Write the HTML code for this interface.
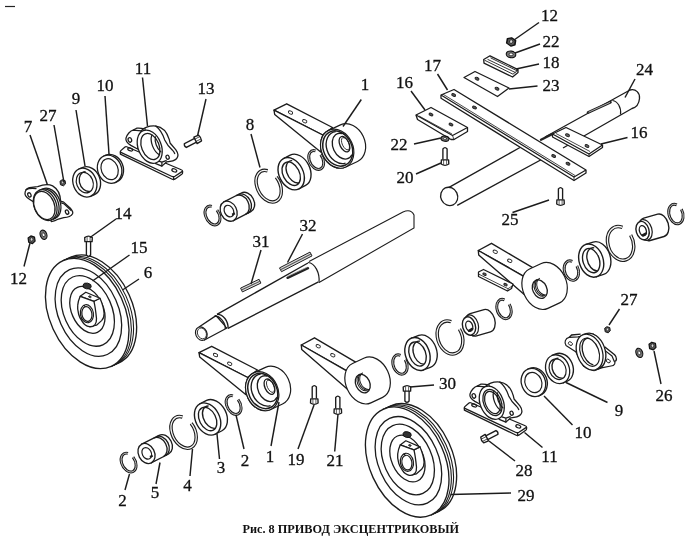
<!DOCTYPE html><html><head><meta charset="utf-8"><title>Рис. 8</title>
<style>html,body{margin:0;padding:0;background:#fff}svg{display:block;filter:blur(0.4px)}text{font-family:"Liberation Serif",serif;fill:#111}</style></head><body>
<svg width="700" height="542" viewBox="0 0 700 542">
<rect width="700" height="542" fill="#fff"/>
<path d="M5,6.5H15" stroke="#222" stroke-width="1.2"/>
<g transform="translate(128.6,462.6) rotate(-27.0)" >
<path d="M6.44,-2.76A6.70,10.00 0 1 1 3.55,-8.48" stroke="#1c1c1c" stroke-width="2.9" fill="none"/>
<path d="M6.44,-2.76A6.70,10.00 0 1 1 3.55,-8.48" stroke="#f4f4f4" stroke-width="0.70" fill="none"/>
</g>
<g transform="translate(146.5,453.5) rotate(-27.0)" >
<path d="M0,-10.5L19.5,-10.5A8,10.5 0 0 1 19.5,10.5L0,10.5Z" stroke="#1c1c1c" stroke-width="1.35" fill="#fff"/>
<path d="M13.50,-10.50A8.00,10.50 0 0 1 13.50,10.50" stroke="#1c1c1c" stroke-width="1.35" fill="none"/>
<path d="M16.00,-10.50A8.00,10.50 0 0 1 16.00,10.50" stroke="#1c1c1c" stroke-width="1.35" fill="none"/>
<ellipse cx="0" cy="0" rx="8" ry="10.5" stroke="#1c1c1c" stroke-width="1.3" fill="#fff"/>
<ellipse cx="0.3" cy="0" rx="4.5" ry="6.1" stroke="#1c1c1c" stroke-width="1.2" fill="#fff"/>
<path d="M1.5,4.7l3,0" stroke="#1c1c1c" stroke-width="2.2"/>
</g>
<g transform="translate(183.6,432.4) rotate(-27.0)" >
<path d="M10.86,-4.63A11.30,16.80 0 1 1 5.99,-14.25" stroke="#1c1c1c" stroke-width="3.5" fill="none"/>
<path d="M10.86,-4.63A11.30,16.80 0 1 1 5.99,-14.25" stroke="#f4f4f4" stroke-width="1.30" fill="none"/>
</g>
<g transform="translate(207.6,419.0) rotate(-27.0)" >
<path d="M0,-17.0L7.5,-17.0A12.0,17.0 0 0 1 7.5,17.0L0,17.0Z" stroke="#1c1c1c" stroke-width="1.35" fill="#fff"/>
<ellipse cx="0" cy="0" rx="12.0" ry="17.0" stroke="#1c1c1c" stroke-width="1.4" fill="#fff"/>
<ellipse cx="0" cy="0" rx="8.2" ry="12.5" stroke="#1c1c1c" stroke-width="1.35" fill="#fff"/>
<path d="M2.77,11.69A7.79,11.88 0 1 1 6.79,-11.16" stroke="#1c1c1c" stroke-width="1.35" fill="none"/>
</g>
<g transform="translate(233.6,405.0) rotate(-27.0)" >
<path d="M6.44,-2.76A6.70,10.00 0 1 1 3.55,-8.48" stroke="#1c1c1c" stroke-width="2.9" fill="none"/>
<path d="M6.44,-2.76A6.70,10.00 0 1 1 3.55,-8.48" stroke="#f4f4f4" stroke-width="0.70" fill="none"/>
</g>
<g transform="translate(212.5,215.5) rotate(-27.0)" >
<path d="M6.44,-2.76A6.70,10.00 0 1 1 3.55,-8.48" stroke="#1c1c1c" stroke-width="2.9" fill="none"/>
<path d="M6.44,-2.76A6.70,10.00 0 1 1 3.55,-8.48" stroke="#f4f4f4" stroke-width="0.70" fill="none"/>
</g>
<g transform="translate(228.7,211.2) rotate(-27.0)" >
<path d="M0,-10.5L19.5,-10.5A8,10.5 0 0 1 19.5,10.5L0,10.5Z" stroke="#1c1c1c" stroke-width="1.35" fill="#fff"/>
<path d="M13.50,-10.50A8.00,10.50 0 0 1 13.50,10.50" stroke="#1c1c1c" stroke-width="1.35" fill="none"/>
<path d="M16.00,-10.50A8.00,10.50 0 0 1 16.00,10.50" stroke="#1c1c1c" stroke-width="1.35" fill="none"/>
<ellipse cx="0" cy="0" rx="8" ry="10.5" stroke="#1c1c1c" stroke-width="1.3" fill="#fff"/>
<ellipse cx="0.3" cy="0" rx="4.5" ry="6.1" stroke="#1c1c1c" stroke-width="1.2" fill="#fff"/>
<path d="M1.5,4.7l3,0" stroke="#1c1c1c" stroke-width="2.2"/>
</g>
<g transform="translate(268.7,186.2) rotate(-27.0)" >
<path d="M10.86,-4.63A11.30,16.80 0 1 1 5.99,-14.25" stroke="#1c1c1c" stroke-width="3.5" fill="none"/>
<path d="M10.86,-4.63A11.30,16.80 0 1 1 5.99,-14.25" stroke="#f4f4f4" stroke-width="1.30" fill="none"/>
</g>
<g transform="translate(291.2,173.7) rotate(-27.0)" >
<path d="M0,-17.0L7.5,-17.0A12.0,17.0 0 0 1 7.5,17.0L0,17.0Z" stroke="#1c1c1c" stroke-width="1.35" fill="#fff"/>
<ellipse cx="0" cy="0" rx="12.0" ry="17.0" stroke="#1c1c1c" stroke-width="1.4" fill="#fff"/>
<ellipse cx="0" cy="0" rx="8.2" ry="12.5" stroke="#1c1c1c" stroke-width="1.35" fill="#fff"/>
<path d="M2.77,11.69A7.79,11.88 0 1 1 6.79,-11.16" stroke="#1c1c1c" stroke-width="1.35" fill="none"/>
</g>
<g transform="translate(316.2,160.0) rotate(-27.0)" >
<path d="M6.44,-2.76A6.70,10.00 0 1 1 3.55,-8.48" stroke="#1c1c1c" stroke-width="2.9" fill="none"/>
<path d="M6.44,-2.76A6.70,10.00 0 1 1 3.55,-8.48" stroke="#f4f4f4" stroke-width="0.70" fill="none"/>
</g>
<g transform="translate(571.4,270.6) rotate(-18.0)" >
<path d="M6.63,-2.76A6.90,10.00 0 1 1 3.66,-8.48" stroke="#1c1c1c" stroke-width="2.9" fill="none"/>
<path d="M6.63,-2.76A6.90,10.00 0 1 1 3.66,-8.48" stroke="#f4f4f4" stroke-width="0.70" fill="none"/>
</g>
<g transform="translate(591.2,260.6) rotate(-18.0)" >
<path d="M0,-17.0L7.5,-17.0A12.0,17.0 0 0 1 7.5,17.0L0,17.0Z" stroke="#1c1c1c" stroke-width="1.35" fill="#fff"/>
<ellipse cx="0" cy="0" rx="12.0" ry="17.0" stroke="#1c1c1c" stroke-width="1.4" fill="#fff"/>
<ellipse cx="0" cy="0" rx="8.2" ry="12.5" stroke="#1c1c1c" stroke-width="1.35" fill="#fff"/>
<path d="M2.77,11.69A7.79,11.88 0 1 1 6.79,-11.16" stroke="#1c1c1c" stroke-width="1.35" fill="none"/>
</g>
<g transform="translate(620.6,243.4) rotate(-18.0)" >
<path d="M12.11,-4.74A12.60,17.20 0 1 1 6.68,-14.59" stroke="#1c1c1c" stroke-width="3.5" fill="none"/>
<path d="M12.11,-4.74A12.60,17.20 0 1 1 6.68,-14.59" stroke="#f4f4f4" stroke-width="1.30" fill="none"/>
</g>
<g transform="translate(642.6,230.6) rotate(-16.0)" >
<path d="M4.5,-11.6L19.0,-11.6A7.6,11.6 0 0 1 19.0,11.6L4.5,11.6A7.6,11.6 0 0 1 4.5,-11.6Z" stroke="#1c1c1c" stroke-width="1.35" fill="#fff"/>
<ellipse cx="2.4" cy="0" rx="7.0" ry="10.6" stroke="#1c1c1c" fill="#fff" stroke-width="1.2"/>
<ellipse cx="0" cy="0" rx="6.4" ry="9.4" stroke="#1c1c1c" stroke-width="1.4" fill="#fff"/>
<ellipse cx="0.2" cy="0.2" rx="3.4" ry="5.2" stroke="#1c1c1c" stroke-width="1.3" fill="#fff"/>
<path d="M-1.2,4.6L2.4,3.6" stroke="#1c1c1c" stroke-width="2.4" stroke-linecap="round"/>
</g>
<g transform="translate(675.9,214.0) rotate(-18.0)" >
<path d="M6.63,-2.76A6.90,10.00 0 1 1 3.66,-8.48" stroke="#1c1c1c" stroke-width="2.9" fill="none"/>
<path d="M6.63,-2.76A6.90,10.00 0 1 1 3.66,-8.48" stroke="#f4f4f4" stroke-width="0.70" fill="none"/>
</g>
<g transform="translate(400.0,364.5) rotate(-20.0)" >
<path d="M6.54,-2.76A6.80,10.00 0 1 1 3.60,-8.48" stroke="#1c1c1c" stroke-width="2.9" fill="none"/>
<path d="M6.54,-2.76A6.80,10.00 0 1 1 3.60,-8.48" stroke="#f4f4f4" stroke-width="0.70" fill="none"/>
</g>
<g transform="translate(417.5,354.0) rotate(-20.0)" >
<path d="M0,-17.0L7.5,-17.0A12.0,17.0 0 0 1 7.5,17.0L0,17.0Z" stroke="#1c1c1c" stroke-width="1.35" fill="#fff"/>
<ellipse cx="0" cy="0" rx="12.0" ry="17.0" stroke="#1c1c1c" stroke-width="1.4" fill="#fff"/>
<ellipse cx="0" cy="0" rx="8.2" ry="12.5" stroke="#1c1c1c" stroke-width="1.35" fill="#fff"/>
<path d="M2.77,11.69A7.79,11.88 0 1 1 6.79,-11.16" stroke="#1c1c1c" stroke-width="1.35" fill="none"/>
</g>
<g transform="translate(450.0,337.5) rotate(-20.0)" >
<path d="M11.73,-4.69A12.20,17.00 0 1 1 6.47,-14.42" stroke="#1c1c1c" stroke-width="3.5" fill="none"/>
<path d="M11.73,-4.69A12.20,17.00 0 1 1 6.47,-14.42" stroke="#f4f4f4" stroke-width="1.30" fill="none"/>
</g>
<g transform="translate(469.0,326.0) rotate(-16.0)" >
<path d="M4.5,-11.6L19.0,-11.6A7.6,11.6 0 0 1 19.0,11.6L4.5,11.6A7.6,11.6 0 0 1 4.5,-11.6Z" stroke="#1c1c1c" stroke-width="1.35" fill="#fff"/>
<ellipse cx="2.4" cy="0" rx="7.0" ry="10.6" stroke="#1c1c1c" fill="#fff" stroke-width="1.2"/>
<ellipse cx="0" cy="0" rx="6.4" ry="9.4" stroke="#1c1c1c" stroke-width="1.4" fill="#fff"/>
<ellipse cx="0.2" cy="0.2" rx="3.4" ry="5.2" stroke="#1c1c1c" stroke-width="1.3" fill="#fff"/>
<path d="M-1.2,4.6L2.4,3.6" stroke="#1c1c1c" stroke-width="2.4" stroke-linecap="round"/>
</g>
<g transform="translate(504.0,309.0) rotate(-20.0)" >
<path d="M6.54,-2.76A6.80,10.00 0 1 1 3.60,-8.48" stroke="#1c1c1c" stroke-width="2.9" fill="none"/>
<path d="M6.54,-2.76A6.80,10.00 0 1 1 3.60,-8.48" stroke="#f4f4f4" stroke-width="0.70" fill="none"/>
</g>
<g transform="translate(337.2,148.7)">
<path d="M-63.2,-38.5L-50.5,-44.9L-4.7,-21.2L-14.5,-13.7Z" stroke="#1c1c1c" stroke-width="1.35" fill="#fff" stroke-linejoin="round"/>
<path d="M-63.2,-38.5L-14.5,-13.7L-16.2,3.5L-62.5,-34.2Z" stroke="#1c1c1c" stroke-width="1.35" fill="#fff" stroke-linejoin="round"/>
<ellipse cx="-46.7" cy="-36.2" rx="2.3" ry="1.5" transform="rotate(25 -46.7 -36.2)" stroke="#1c1c1c" fill="none" stroke-width="0.9"/>
<ellipse cx="-32.5" cy="-27.5" rx="2.3" ry="1.5" transform="rotate(25 -32.5 -27.5)" stroke="#1c1c1c" fill="none" stroke-width="0.9"/>
</g>
<g transform="translate(337.2,148.7) rotate(-25.0)" >
<path d="M0,-20.2L13.0,-20.2A15.8,20.2 0 0 1 13.0,20.2L0,20.2A15.8,20.2 0 0 1 0,-20.2Z" stroke="#1c1c1c" stroke-width="1.2" fill="#fff"/>
<ellipse cx="0" cy="0" rx="15.8" ry="20.2" stroke="#1c1c1c" stroke-width="1.2" fill="#fff"/>
<ellipse cx="0.6" cy="0" rx="14.200000000000001" ry="18.3" stroke="#1c1c1c" stroke-width="1.5" fill="none"/>
<path d="M1.50,16.54A12.60,16.60 0 1 1 5.86,-16.03" stroke="#1c1c1c" stroke-width="1.35" fill="none"/>
<path d="M10.80,11.69A9.60,13.50 0 1 1 10.80,-11.69" stroke="#1c1c1c" stroke-width="1.35" fill="none"/>
<ellipse cx="8.5" cy="-1.0" rx="4.6" ry="8.2" stroke="#1c1c1c" stroke-width="1.3" fill="none"/>
<ellipse cx="9.6" cy="-1.0" rx="3.2" ry="6.6" stroke="#1c1c1c" stroke-width="0.8" fill="none"/>
</g>
<g transform="translate(262.2,391.2)">
<path d="M-63.2,-38.5L-50.5,-44.9L-4.7,-21.2L-14.5,-13.7Z" stroke="#1c1c1c" stroke-width="1.35" fill="#fff" stroke-linejoin="round"/>
<path d="M-63.2,-38.5L-14.5,-13.7L-16.2,3.5L-62.5,-34.2Z" stroke="#1c1c1c" stroke-width="1.35" fill="#fff" stroke-linejoin="round"/>
<ellipse cx="-46.7" cy="-36.2" rx="2.3" ry="1.5" transform="rotate(25 -46.7 -36.2)" stroke="#1c1c1c" fill="none" stroke-width="0.9"/>
<ellipse cx="-32.5" cy="-27.5" rx="2.3" ry="1.5" transform="rotate(25 -32.5 -27.5)" stroke="#1c1c1c" fill="none" stroke-width="0.9"/>
</g>
<g transform="translate(262.2,391.2) rotate(-25.0)" >
<path d="M0,-20.2L13.0,-20.2A15.8,20.2 0 0 1 13.0,20.2L0,20.2A15.8,20.2 0 0 1 0,-20.2Z" stroke="#1c1c1c" stroke-width="1.2" fill="#fff"/>
<ellipse cx="0" cy="0" rx="15.8" ry="20.2" stroke="#1c1c1c" stroke-width="1.2" fill="#fff"/>
<ellipse cx="0.6" cy="0" rx="14.200000000000001" ry="18.3" stroke="#1c1c1c" stroke-width="1.5" fill="none"/>
<path d="M1.50,16.54A12.60,16.60 0 1 1 5.86,-16.03" stroke="#1c1c1c" stroke-width="1.35" fill="none"/>
<path d="M10.80,11.69A9.60,13.50 0 1 1 10.80,-11.69" stroke="#1c1c1c" stroke-width="1.35" fill="none"/>
<ellipse cx="8.5" cy="-1.0" rx="4.6" ry="8.2" stroke="#1c1c1c" stroke-width="1.3" fill="none"/>
<ellipse cx="9.6" cy="-1.0" rx="3.2" ry="6.6" stroke="#1c1c1c" stroke-width="0.8" fill="none"/>
</g>
<g transform="translate(361.7,383.2)">
<path d="M-60.4,-38.2L-47.2,-45.4L-5.2,-20.5L-15,-12.4Z" stroke="#1c1c1c" stroke-width="1.35" fill="#fff" stroke-linejoin="round"/>
<path d="M-60.4,-38.2L-15,-12.4L-14.2,6L-60,-33.8Z" stroke="#1c1c1c" stroke-width="1.35" fill="#fff" stroke-linejoin="round"/>
<ellipse cx="-43.5" cy="-37" rx="2.3" ry="1.5" transform="rotate(25 -43.5 -37)" stroke="#1c1c1c" fill="none" stroke-width="0.9"/>
<ellipse cx="-28.9" cy="-28" rx="2.3" ry="1.5" transform="rotate(25 -28.9 -28)" stroke="#1c1c1c" fill="none" stroke-width="0.9"/>
</g>
<g transform="translate(361.7,383.2) rotate(-25.0)" >
<path d="M0,-21.7L13.0,-21.7A15.6,21.7 0 0 1 13.0,21.7L0,21.7A15.6,21.7 0 0 1 0,-21.7Z" stroke="#1c1c1c" stroke-width="1.2" fill="#fff"/>
<ellipse cx="0.8" cy="0.8" rx="7.0" ry="9.6" stroke="#1c1c1c" stroke-width="1.3" fill="#fff"/>
<path d="M1.29,8.86A6.40,9.00 0 0 1 2.40,-9.00" stroke="#1c1c1c" fill="none" stroke-width="1.0"/>
<path d="M2.79,8.86A6.40,9.00 0 0 1 3.90,-9.00" stroke="#1c1c1c" fill="none" stroke-width="1.0"/>
<path d="M4.29,8.86A6.40,9.00 0 0 1 5.40,-9.00" stroke="#1c1c1c" fill="none" stroke-width="1.0"/>
</g>
<g transform="translate(538.7,288.7)">
<path d="M-60.4,-38.2L-47.2,-45.4L-5.2,-20.5L-15,-12.4Z" stroke="#1c1c1c" stroke-width="1.35" fill="#fff" stroke-linejoin="round"/>
<path d="M-60.4,-38.2L-15,-12.4L-14.2,6L-60,-33.8Z" stroke="#1c1c1c" stroke-width="1.35" fill="#fff" stroke-linejoin="round"/>
<ellipse cx="-43.5" cy="-37" rx="2.3" ry="1.5" transform="rotate(25 -43.5 -37)" stroke="#1c1c1c" fill="none" stroke-width="0.9"/>
<ellipse cx="-28.9" cy="-28" rx="2.3" ry="1.5" transform="rotate(25 -28.9 -28)" stroke="#1c1c1c" fill="none" stroke-width="0.9"/>
</g>
<g transform="translate(538.7,288.7) rotate(-25.0)" >
<path d="M0,-21.7L13.0,-21.7A15.6,21.7 0 0 1 13.0,21.7L0,21.7A15.6,21.7 0 0 1 0,-21.7Z" stroke="#1c1c1c" stroke-width="1.2" fill="#fff"/>
<ellipse cx="0.8" cy="0.8" rx="7.0" ry="9.6" stroke="#1c1c1c" stroke-width="1.3" fill="#fff"/>
<path d="M1.29,8.86A6.40,9.00 0 0 1 2.40,-9.00" stroke="#1c1c1c" fill="none" stroke-width="1.0"/>
<path d="M2.79,8.86A6.40,9.00 0 0 1 3.90,-9.00" stroke="#1c1c1c" fill="none" stroke-width="1.0"/>
<path d="M4.29,8.86A6.40,9.00 0 0 1 5.40,-9.00" stroke="#1c1c1c" fill="none" stroke-width="1.0"/>
</g>
<g transform="translate(87.2,313.5) rotate(-24.5)" >
<path d="M0,-58.0L8.4,-58.0A37.5,58.0 0 0 1 8.4,58.0L0,58.0Z" stroke="#1c1c1c" stroke-width="1.35" fill="#fff"/>
<path d="M0.64,-57.92A37.50,58.00 0 1 1 0.64,57.92" stroke="#1c1c1c" fill="none" stroke-width="1.1"/>
<path d="M3.04,-57.92A37.50,58.00 0 1 1 3.04,57.92" stroke="#1c1c1c" fill="none" stroke-width="1.1"/>
<ellipse cx="0" cy="0" rx="37.5" ry="58.0" stroke="#1c1c1c" stroke-width="1.35" fill="#fff"/>
</g>
<g transform="translate(88.4,312.1) rotate(-24.0)" >
<ellipse cx="0" cy="0" rx="30.0" ry="46.4" stroke="#1c1c1c" fill="none" stroke-width="1.3"/>
</g>
<g transform="translate(87.8,310.9) rotate(-24.0)" >
<ellipse cx="0" cy="0" rx="24.0" ry="37.1" stroke="#1c1c1c" fill="none" stroke-width="1.3"/>
</g>
<g transform="translate(87.4,309.9) rotate(-24.0)" >
<ellipse cx="0" cy="0" rx="15.9" ry="24.6" stroke="#1c1c1c" fill="none" stroke-width="1.3"/>
</g>
<g transform="translate(87.2,313.5)">
<path d="M6.7,-12.2L12.8,-15.2C15,-10 16.6,-5 16.9,0C17,3 16,5.5 14.4,7.1L9.3,11.7L2.2,13.2Z" stroke="#1c1c1c" stroke-width="1.25" fill="#fff" stroke-linejoin="round"/>
<path d="M-7,-17.2L-1.4,-21.3L12.8,-15.2L6.7,-12.2Z" stroke="#1c1c1c" stroke-width="1.25" fill="#fff" stroke-linejoin="round"/>
<path d="M-7,-17.2L6.7,-12.2C7.8,-8 8.6,-2 9.3,5.1C9.4,8 8.8,10 7.8,11.2C6,13 4,13.4 2.2,13.2C-1,12.6 -3.5,10.5 -4.9,8.1C-7,5 -8.3,2 -8.5,1C-9.6,-3 -9.8,-6 -9.5,-8.1C-9.2,-11.5 -8,-15 -7,-17.2Z" stroke="#1c1c1c" stroke-width="1.3" fill="#fff" stroke-linejoin="round"/>
<ellipse cx="-0.3" cy="0.2" rx="6.5" ry="9.1" transform="rotate(-10 -0.3 0.2)" stroke="#1c1c1c" stroke-width="1.2" fill="#fff"/>
<ellipse cx="-0.3" cy="0.5" rx="5.0" ry="7.4" transform="rotate(-10 -0.3 0.5)" stroke="#1c1c1c" stroke-width="1.2" fill="#fff"/>
<path d="M-3.6,-8.6l1.4,1.6" stroke="#1c1c1c" stroke-width="1.2" fill="none"/>
<ellipse cx="2.7" cy="-16.7" rx="1.4" ry="0.8" transform="rotate(20 2.7 -16.7)" stroke="#111" stroke-width="0.7" fill="#555"/>
<ellipse cx="-0.1" cy="-27.5" rx="4.2" ry="2.9" transform="rotate(12 -0.1 -27.5)" fill="#333" stroke="#111" stroke-width="0.9"/>
</g>
<g transform="translate(407.2,462.1) rotate(-24.5)" >
<path d="M0,-58.0L8.4,-58.0A37.5,58.0 0 0 1 8.4,58.0L0,58.0Z" stroke="#1c1c1c" stroke-width="1.35" fill="#fff"/>
<path d="M0.64,-57.92A37.50,58.00 0 1 1 0.64,57.92" stroke="#1c1c1c" fill="none" stroke-width="1.1"/>
<path d="M3.04,-57.92A37.50,58.00 0 1 1 3.04,57.92" stroke="#1c1c1c" fill="none" stroke-width="1.1"/>
<ellipse cx="0" cy="0" rx="37.5" ry="58.0" stroke="#1c1c1c" stroke-width="1.35" fill="#fff"/>
</g>
<g transform="translate(408.4,460.7) rotate(-24.0)" >
<ellipse cx="0" cy="0" rx="30.0" ry="46.4" stroke="#1c1c1c" fill="none" stroke-width="1.3"/>
</g>
<g transform="translate(407.8,459.5) rotate(-24.0)" >
<ellipse cx="0" cy="0" rx="24.0" ry="37.1" stroke="#1c1c1c" fill="none" stroke-width="1.3"/>
</g>
<g transform="translate(407.4,458.5) rotate(-24.0)" >
<ellipse cx="0" cy="0" rx="15.9" ry="24.6" stroke="#1c1c1c" fill="none" stroke-width="1.3"/>
</g>
<g transform="translate(407.2,462.1)">
<path d="M6.7,-12.2L12.8,-15.2C15,-10 16.6,-5 16.9,0C17,3 16,5.5 14.4,7.1L9.3,11.7L2.2,13.2Z" stroke="#1c1c1c" stroke-width="1.25" fill="#fff" stroke-linejoin="round"/>
<path d="M-7,-17.2L-1.4,-21.3L12.8,-15.2L6.7,-12.2Z" stroke="#1c1c1c" stroke-width="1.25" fill="#fff" stroke-linejoin="round"/>
<path d="M-7,-17.2L6.7,-12.2C7.8,-8 8.6,-2 9.3,5.1C9.4,8 8.8,10 7.8,11.2C6,13 4,13.4 2.2,13.2C-1,12.6 -3.5,10.5 -4.9,8.1C-7,5 -8.3,2 -8.5,1C-9.6,-3 -9.8,-6 -9.5,-8.1C-9.2,-11.5 -8,-15 -7,-17.2Z" stroke="#1c1c1c" stroke-width="1.3" fill="#fff" stroke-linejoin="round"/>
<ellipse cx="-0.3" cy="0.2" rx="6.5" ry="9.1" transform="rotate(-10 -0.3 0.2)" stroke="#1c1c1c" stroke-width="1.2" fill="#fff"/>
<ellipse cx="-0.3" cy="0.5" rx="5.0" ry="7.4" transform="rotate(-10 -0.3 0.5)" stroke="#1c1c1c" stroke-width="1.2" fill="#fff"/>
<path d="M-3.6,-8.6l1.4,1.6" stroke="#1c1c1c" stroke-width="1.2" fill="none"/>
<ellipse cx="2.7" cy="-16.7" rx="1.4" ry="0.8" transform="rotate(20 2.7 -16.7)" stroke="#111" stroke-width="0.7" fill="#555"/>
<ellipse cx="-0.1" cy="-27.5" rx="4.2" ry="2.9" transform="rotate(12 -0.1 -27.5)" fill="#333" stroke="#111" stroke-width="0.9"/>
</g>
<path d="M199.0,327.0L216.0,315.6L227.0,328.0L204.0,340.2" stroke="#1c1c1c" stroke-width="1.3" fill="#fff" stroke-linejoin="round" />
<ellipse cx="201.3" cy="333.6" rx="5.6" ry="7.0" transform="rotate(-24 201.3 333.6)" stroke="#1c1c1c" fill="#fff" stroke-width="1.2"/>
<ellipse cx="201.9" cy="333.4" rx="4.3" ry="5.6" transform="rotate(-24 201.9 333.4)" stroke="#1c1c1c" fill="none" stroke-width="0.8"/>
<path d="M217,314.4L308,263L318.5,281.8L228,328.4Z" fill="#fff" stroke="none"/>
<path d="M217,314.4L308,263M318.5,281.8L228,328.4" stroke="#1c1c1c" stroke-width="1.35" fill="none"/>
<path d="M217,314.4C223,314 228.5,321 228,328.4" stroke="#1c1c1c" fill="#fff" stroke-width="1.3"/>
<path d="M214.6,316C220,316 225.6,322.5 225.3,329" stroke="#1c1c1c" stroke-width="1.35" fill="none"/>
<path d="M309,261.5L403,212Q411,208.5 414,215L414,228L319,282.5" stroke="#1c1c1c" fill="#fff" stroke-width="1.1"/>
<path d="M308,262.5C315,263 320,273 319,282.5" stroke="#1c1c1c" fill="#fff" stroke-width="1.2"/>
<path d="M287.5,277.8L308,268.2" stroke="#222" stroke-width="2.4" stroke-linecap="round"/>
<path d="M288,276.2L307.5,267" stroke="#999" stroke-width="0.8"/>
<path d="M242.4,291.9L260.9,283.1L259.1,279.3L240.6,288.1Z" stroke="#1c1c1c" stroke-width="1.0" fill="#ddd" stroke-linejoin="round" />
<path d="M241.5,290.0L260.0,281.2" stroke="#555" stroke-width="1.1"/>
<path d="M281.5,271.7L312.0,255.9L310.0,252.1L279.5,267.9Z" stroke="#1c1c1c" stroke-width="1.0" fill="#ddd" stroke-linejoin="round" />
<path d="M280.5,269.8L311.0,254.0" stroke="#555" stroke-width="1.1"/>
<path d="M520,147.5L448.6,187.6L457.2,205.3L548,156L545,136Z" fill="#fff" stroke="none"/>
<path d="M520,147.5L448.6,187.6M457.2,205.3L548,156" stroke="#1c1c1c" fill="none" stroke-width="1.35"/>
<ellipse cx="449.2" cy="196.4" rx="8.4" ry="9.3" transform="rotate(-25 449.2 196.4)" stroke="#1c1c1c" fill="#fff" stroke-width="1.35"/>
<path d="M545,137L630,90C636,88.5 640,93 639.5,98.5C639,104 636,107.5 632,108.5L560,150Z" fill="#fff" stroke="none"/>
<path d="M545,137L630,90C636,88.5 640,93 639.5,98.5C639,104 636,107.5 632,108.5L563,148" stroke="#1c1c1c" fill="none" stroke-width="1.3" stroke-linejoin="round"/>
<path d="M612.5,100.5C617.5,101 621.5,107.5 620.5,114.5" stroke="#1c1c1c" fill="none" stroke-width="1.2"/>
<path d="M588,112.5L610.5,102.2" stroke="#222" stroke-width="2.6" stroke-linecap="round"/>
<path d="M588.6,112.2L610,102.4" stroke="#ccc" stroke-width="0.8"/>
<path d="M541,139.8L552,134.2" stroke="#222" stroke-width="2.4" stroke-linecap="round"/>
<path d="M552.5,134.0L566.0,127.5L602.5,145.0L602.5,147.5L589.0,156.5L552.5,137.0Z" stroke="#1c1c1c" stroke-width="1.3" fill="#fff" stroke-linejoin="round" />
<path d="M552.5,134.0L589.0,154.0L602.5,145.0" stroke="#1c1c1c" stroke-width="1.25" fill="none" stroke-linejoin="round" />
<path d="M589,154V156.5M556,133.5L590,151.5" stroke="#1c1c1c" fill="none" stroke-width="0.8"/>
<ellipse cx="567.5" cy="135.2" rx="2.1" ry="1.3" transform="rotate(25 567.5 135.2)" stroke="#1c1c1c" stroke-width="0.9" fill="#666"/>
<ellipse cx="587" cy="146" rx="2.1" ry="1.3" transform="rotate(25 587 146)" stroke="#1c1c1c" stroke-width="0.9" fill="#666"/>
<path d="M441.0,95.0L454.0,89.5L586.0,170.0L586.0,173.0L574.0,180.5L441.0,98.2Z" stroke="#1c1c1c" stroke-width="1.3" fill="#fff" stroke-linejoin="round" />
<path d="M441.0,95.0L574.0,177.0L586.0,170.0" stroke="#1c1c1c" stroke-width="1.25" fill="none" stroke-linejoin="round" />
<path d="M574,177V180.5M443,94.2L575,175.5" stroke="#1c1c1c" fill="none" stroke-width="0.8"/>
<ellipse cx="453.7" cy="95" rx="2.1" ry="1.3" transform="rotate(25 453.7 95)" stroke="#1c1c1c" stroke-width="0.9" fill="#555"/>
<ellipse cx="474.5" cy="107.5" rx="2.1" ry="1.3" transform="rotate(25 474.5 107.5)" stroke="#1c1c1c" stroke-width="0.9" fill="#555"/>
<ellipse cx="553.7" cy="156" rx="2.1" ry="1.3" transform="rotate(25 553.7 156)" stroke="#1c1c1c" stroke-width="0.9" fill="#555"/>
<ellipse cx="568" cy="163.7" rx="2.1" ry="1.3" transform="rotate(25 568 163.7)" stroke="#1c1c1c" stroke-width="0.9" fill="#555"/>
<path d="M464.0,77.5L475.0,71.5L509.0,88.0L497.5,96.5Z" stroke="#1c1c1c" stroke-width="1.3" fill="#fff" stroke-linejoin="round" />
<ellipse cx="477" cy="78.7" rx="2.1" ry="1.3" transform="rotate(25 477 78.7)" stroke="#1c1c1c" stroke-width="0.9" fill="#555"/>
<ellipse cx="497" cy="88.7" rx="2.1" ry="1.3" transform="rotate(25 497 88.7)" stroke="#1c1c1c" stroke-width="0.9" fill="#555"/>
<path d="M483.7,59.5L490.0,55.8L518.0,69.6L518.0,72.6L512.6,77.0L484.0,63.2Z" stroke="#1c1c1c" stroke-width="1.3" fill="#fff" stroke-linejoin="round" />
<path d="M484.5,60.2L513,74.2L518,70M487.5,59.3L515.5,72.6M490.5,57.8L517.5,71" stroke="#1c1c1c" fill="none" stroke-width="0.9"/>
<g transform="translate(511.0,41.8) rotate(20) scale(1.3,1.04)">
<path d="M-3.4,-1.8L-0.6,-3.8L3.0,-2.6L3.6,1.4L1.0,3.9L-2.8,2.6Z" stroke="#111" stroke-width="1.2" fill="#555" stroke-linejoin="round"/>
<ellipse cx="0.1" cy="-0.3" rx="1.3" ry="1.7" fill="#ddd" stroke="#111" stroke-width="0.6"/>
</g>
<ellipse cx="511" cy="54.4" rx="4.8" ry="3.3" transform="rotate(8 511 54.4)" stroke="#111" stroke-width="1.1" fill="#777"/>
<ellipse cx="511" cy="54.4" rx="2.02" ry="1.39" transform="rotate(8 511 54.4)" stroke="#111" stroke-width="0.7" fill="#fff"/>
<path d="M416.0,115.0L431.0,107.5L467.5,127.5L467.5,131.5L454.0,139.5L451.0,139.5L417.5,119.5Z" stroke="#1c1c1c" stroke-width="1.3" fill="#fff" stroke-linejoin="round" />
<path d="M416.0,115.0L452.5,135.5L467.5,127.5" stroke="#1c1c1c" stroke-width="1.25" fill="none" stroke-linejoin="round" />
<path d="M452.5,135.5L454,139.5M419,116L452,134" stroke="#1c1c1c" fill="none" stroke-width="0.8"/>
<ellipse cx="431" cy="114.5" rx="2.1" ry="1.3" transform="rotate(25 431 114.5)" stroke="#1c1c1c" stroke-width="0.9" fill="#555"/>
<ellipse cx="451" cy="124.5" rx="2.1" ry="1.3" transform="rotate(25 451 124.5)" stroke="#1c1c1c" stroke-width="0.9" fill="#555"/>
<ellipse cx="445" cy="138.7" rx="4.0" ry="2.6" transform="rotate(10 445 138.7)" stroke="#111" stroke-width="1.1" fill="#777"/>
<ellipse cx="445" cy="138.7" rx="1.68" ry="1.09" transform="rotate(10 445 138.7)" stroke="#111" stroke-width="0.7" fill="#fff"/>
<path d="M442.9,159.5L442.9,149.0Q445,146.3 447.1,149.0L447.1,159.5" stroke="#1c1c1c" stroke-width="1.35" fill="#fff"/>
<path d="M441.4,159.9L448.6,159.9L448.8,164.0Q445,166.7 441.2,164.0Z" stroke="#1c1c1c" stroke-width="1.35" fill="#fff" stroke-linejoin="round"/>
<path d="M443.6,159.9V164.9M446.6,159.9V164.7" stroke="#1c1c1c" fill="none" stroke-width="0.7"/>
<path d="M558.4,199.5L558.4,189.0Q560.5,186.3 562.6,189.0L562.6,199.5" stroke="#1c1c1c" stroke-width="1.35" fill="#fff"/>
<path d="M556.9,199.9L564.1,199.9L564.3,204.0Q560.5,206.7 556.7,204.0Z" stroke="#1c1c1c" stroke-width="1.35" fill="#fff" stroke-linejoin="round"/>
<path d="M559.1,199.9V204.9M562.1,199.9V204.7" stroke="#1c1c1c" fill="none" stroke-width="0.7"/>
<path d="M312.2,398.5L312.2,387.0Q314.3,384.3 316.40000000000003,387.0L316.40000000000003,398.5" stroke="#1c1c1c" stroke-width="1.35" fill="#fff"/>
<path d="M310.7,398.9L317.90000000000003,398.9L318.1,403.0Q314.3,405.7 310.5,403.0Z" stroke="#1c1c1c" stroke-width="1.35" fill="#fff" stroke-linejoin="round"/>
<path d="M312.90000000000003,398.9V403.9M315.90000000000003,398.9V403.7" stroke="#1c1c1c" fill="none" stroke-width="0.7"/>
<path d="M335.7,408.5L335.7,397.5Q337.8,394.8 339.90000000000003,397.5L339.90000000000003,408.5" stroke="#1c1c1c" stroke-width="1.35" fill="#fff"/>
<path d="M334.2,408.9L341.40000000000003,408.9L341.6,413.0Q337.8,415.7 334.0,413.0Z" stroke="#1c1c1c" stroke-width="1.35" fill="#fff" stroke-linejoin="round"/>
<path d="M336.40000000000003,408.9V413.9M339.40000000000003,408.9V413.7" stroke="#1c1c1c" fill="none" stroke-width="0.7"/>
<path d="M404.9,390.5L404.9,401.0Q407,403.7 409.1,401.0L409.1,390.5" stroke="#1c1c1c" stroke-width="1.35" fill="#fff"/>
<path d="M403.2,387.1Q407,384.1 410.8,387.1L410.6,391.1L403.4,391.1Z" stroke="#1c1c1c" stroke-width="1.35" fill="#fff" stroke-linejoin="round"/>
<path d="M405.6,386.1V391.1M408.6,386.3V391.1" stroke="#1c1c1c" fill="none" stroke-width="0.7"/>
<path d="M86.4,241L86.4,255.0Q88.5,257.7 90.6,255.0L90.6,241" stroke="#1c1c1c" stroke-width="1.35" fill="#fff"/>
<path d="M84.7,237.6Q88.5,234.6 92.3,237.6L92.1,241.6L84.9,241.6Z" stroke="#1c1c1c" stroke-width="1.35" fill="#fff" stroke-linejoin="round"/>
<path d="M87.1,236.6V241.6M90.1,236.8V241.6" stroke="#1c1c1c" fill="none" stroke-width="0.7"/>
<g transform="translate(197.8,139.2) rotate(153.0)">
<path d="M2.5,-2.1L14,-2.1Q15.6,0 14,2.1L2.5,2.1" stroke="#1c1c1c" stroke-width="1.35" fill="#fff"/>
<path d="M-2.6,-3.2L2.6,-3.6L2.6,3.6L-2.6,3.2Q-4,0 -2.6,-3.2Z" stroke="#1c1c1c" stroke-width="1.35" fill="#fff" stroke-linejoin="round"/>
<path d="M-2.8,-1.2H2.6M-2.8,1.4H2.6" stroke="#1c1c1c" fill="none" stroke-width="0.7"/>
</g>
<g transform="translate(484.5,438.8) rotate(-27.0)">
<path d="M2.5,-2.1L14,-2.1Q15.6,0 14,2.1L2.5,2.1" stroke="#1c1c1c" stroke-width="1.35" fill="#fff"/>
<path d="M-2.6,-3.2L2.6,-3.6L2.6,3.6L-2.6,3.2Q-4,0 -2.6,-3.2Z" stroke="#1c1c1c" stroke-width="1.35" fill="#fff" stroke-linejoin="round"/>
<path d="M-2.8,-1.2H2.6M-2.8,1.4H2.6" stroke="#1c1c1c" fill="none" stroke-width="0.7"/>
</g>
<path d="M478.5,272.0L483.5,269.5L513.0,284.0L511.5,288.5L507.5,291.0L478.5,276.5Z" stroke="#1c1c1c" stroke-width="1.3" fill="#fff" stroke-linejoin="round" />
<path d="M478.5,274L508,288.7L513,285.5M508,288.7V291" stroke="#1c1c1c" fill="none" stroke-width="0.8"/>
<ellipse cx="484.5" cy="274.2" rx="1.8" ry="1.1" transform="rotate(25 484.5 274.2)" stroke="#1c1c1c" stroke-width="0.9" fill="#555"/>
<ellipse cx="505.5" cy="284.6" rx="1.8" ry="1.1" transform="rotate(25 505.5 284.6)" stroke="#1c1c1c" stroke-width="0.9" fill="#555"/>
<g transform="translate(115.0,118.0) scale(0.1218)">
<path d="M48,268Q43,274 44,282L44,297L470,503Q482,508 494,500L548,462Q556,456 555,446L555,436Q553,428 544,425L96,236Q88,233 82,238Z" stroke="#1c1c1c" stroke-width="10.5" stroke-linejoin="round" stroke-linecap="round" fill="#fff"/>
<path d="M44,280L468,480Q480,485 492,478L553,438M481,483L482,505" stroke="#1c1c1c" stroke-width="10.5" stroke-linejoin="round" stroke-linecap="round" fill="none"/>
<ellipse cx="125" cy="258" rx="21" ry="11" transform="rotate(22 125 258)" stroke="#1c1c1c" stroke-width="10.5" stroke-linejoin="round" stroke-linecap="round" fill="none"/>
<ellipse cx="487" cy="430" rx="21" ry="12" transform="rotate(22 487 430)" stroke="#1c1c1c" stroke-width="10.5" stroke-linejoin="round" stroke-linecap="round" fill="none"/>
<path d="M215,105C240,80 290,62 335,66C385,72 425,110 445,175L452,205L500,262C520,290 522,315 505,335C490,350 465,357 425,360L385,395L330,372Z" stroke="#1c1c1c" stroke-width="10.5" stroke-linejoin="round" stroke-linecap="round" fill="#fff"/>
<path d="M335,66C372,95 392,130 408,180C425,215 440,235 470,262C478,270 486,280 490,292" stroke="#1c1c1c" stroke-width="10.5" stroke-linejoin="round" stroke-linecap="round" fill="none"/>
<path d="M385,395L385,362L420,350M385,362L352,352" stroke="#1c1c1c" stroke-width="10.5" stroke-linejoin="round" stroke-linecap="round" fill="none"/>
<ellipse cx="432" cy="322" rx="13" ry="17" transform="rotate(-20 432 322)" stroke="#1c1c1c" stroke-width="10.5" stroke-linejoin="round" stroke-linecap="round" fill="none"/>
<path d="M215,105L150,100C125,104 98,135 90,165C86,185 98,205 130,225L185,255Z" stroke="#1c1c1c" stroke-width="10.5" stroke-linejoin="round" stroke-linecap="round" fill="#fff"/>
<path d="M150,100L178,84C200,80 235,88 250,92" stroke="#1c1c1c" stroke-width="10.5" stroke-linejoin="round" stroke-linecap="round" fill="none"/>
<ellipse cx="122" cy="180" rx="14" ry="19" transform="rotate(-20 122 180)" stroke="#1c1c1c" stroke-width="10.5" stroke-linejoin="round" stroke-linecap="round" fill="none"/>
<g transform="translate(285,236) rotate(-22)">
<ellipse cx="0" cy="0" rx="95" ry="142" stroke="#1c1c1c" stroke-width="10.5" stroke-linejoin="round" stroke-linecap="round" fill="#fff"/>
<ellipse cx="6" cy="0" rx="72" ry="112" stroke="#1c1c1c" stroke-width="10.5" stroke-linejoin="round" stroke-linecap="round" fill="#fff"/>
<path d="M52,-82A60,104 0 0 0 50,92" stroke="#1c1c1c" stroke-width="10.5" stroke-linejoin="round" stroke-linecap="round" fill="none"/>
<path d="M74,-58A55,92 0 0 0 70,74" stroke="#1c1c1c" stroke-width="10.5" stroke-linejoin="round" stroke-linecap="round" fill="none"/>
</g>
</g>
<g transform="translate(459.0,374.0) scale(0.1218)">
<path d="M48,268Q43,274 44,282L44,297L470,503Q482,508 494,500L548,462Q556,456 555,446L555,436Q553,428 544,425L96,236Q88,233 82,238Z" stroke="#1c1c1c" stroke-width="10.5" stroke-linejoin="round" stroke-linecap="round" fill="#fff"/>
<path d="M44,280L468,480Q480,485 492,478L553,438M481,483L482,505" stroke="#1c1c1c" stroke-width="10.5" stroke-linejoin="round" stroke-linecap="round" fill="none"/>
<ellipse cx="125" cy="258" rx="21" ry="11" transform="rotate(22 125 258)" stroke="#1c1c1c" stroke-width="10.5" stroke-linejoin="round" stroke-linecap="round" fill="none"/>
<ellipse cx="487" cy="430" rx="21" ry="12" transform="rotate(22 487 430)" stroke="#1c1c1c" stroke-width="10.5" stroke-linejoin="round" stroke-linecap="round" fill="none"/>
<path d="M215,105C240,80 290,62 335,66C385,72 425,110 445,175L452,205L500,262C520,290 522,315 505,335C490,350 465,357 425,360L385,395L330,372Z" stroke="#1c1c1c" stroke-width="10.5" stroke-linejoin="round" stroke-linecap="round" fill="#fff"/>
<path d="M335,66C372,95 392,130 408,180C425,215 440,235 470,262C478,270 486,280 490,292" stroke="#1c1c1c" stroke-width="10.5" stroke-linejoin="round" stroke-linecap="round" fill="none"/>
<path d="M385,395L385,362L420,350M385,362L352,352" stroke="#1c1c1c" stroke-width="10.5" stroke-linejoin="round" stroke-linecap="round" fill="none"/>
<ellipse cx="432" cy="322" rx="13" ry="17" transform="rotate(-20 432 322)" stroke="#1c1c1c" stroke-width="10.5" stroke-linejoin="round" stroke-linecap="round" fill="none"/>
<path d="M215,105L150,100C125,104 98,135 90,165C86,185 98,205 130,225L185,255Z" stroke="#1c1c1c" stroke-width="10.5" stroke-linejoin="round" stroke-linecap="round" fill="#fff"/>
<path d="M150,100L178,84C200,80 235,88 250,92" stroke="#1c1c1c" stroke-width="10.5" stroke-linejoin="round" stroke-linecap="round" fill="none"/>
<ellipse cx="122" cy="180" rx="14" ry="19" transform="rotate(-20 122 180)" stroke="#1c1c1c" stroke-width="10.5" stroke-linejoin="round" stroke-linecap="round" fill="none"/>
<g transform="translate(269,236) rotate(-22)">
<ellipse cx="0" cy="0" rx="95" ry="142" stroke="#1c1c1c" stroke-width="10.5" stroke-linejoin="round" stroke-linecap="round" fill="#fff"/>
<ellipse cx="6" cy="0" rx="72" ry="112" stroke="#1c1c1c" stroke-width="10.5" stroke-linejoin="round" stroke-linecap="round" fill="#fff"/>
<ellipse cx="6" cy="0" rx="58" ry="96" stroke="#1c1c1c" stroke-width="10.5" stroke-linejoin="round" stroke-linecap="round" fill="none"/>
<path d="M52,-82A60,104 0 0 0 50,92" stroke="#1c1c1c" stroke-width="10.5" stroke-linejoin="round" stroke-linecap="round" fill="none"/>
<path d="M74,-58A55,92 0 0 0 70,74" stroke="#1c1c1c" stroke-width="10.5" stroke-linejoin="round" stroke-linecap="round" fill="none"/>
</g>
</g>
<g transform="translate(15.0,175.0) scale(0.11074)">
<path d="M205,105C180,108 150,110 130,115C105,122 90,145 90,172C92,195 110,212 165,240L330,420C350,418 372,410 392,398L440,385C475,384 505,378 520,350C528,335 515,318 500,300L440,245L412,236C410,180 385,125 340,98C300,80 250,88 205,105Z" stroke="#1c1c1c" stroke-width="11.5" stroke-linejoin="round" stroke-linecap="round" fill="#fff"/>
<path d="M100,132C125,118 160,118 190,122M418,252L445,262L505,318" stroke="#1c1c1c" stroke-width="11.5" stroke-linejoin="round" stroke-linecap="round" fill="none"/>
<ellipse cx="130" cy="180" rx="14" ry="20" transform="rotate(-25 130 180)" stroke="#1c1c1c" stroke-width="11.5" stroke-linejoin="round" stroke-linecap="round" fill="none"/>
<ellipse cx="470" cy="335" rx="14" ry="20" transform="rotate(-25 470 335)" stroke="#1c1c1c" stroke-width="11.5" stroke-linejoin="round" stroke-linecap="round" fill="none"/>
<g transform="translate(265,275) rotate(-22)">
<path d="M8,-144L46,-144A100,144 0 0 1 46,144L8,144Z" stroke="#1c1c1c" stroke-width="11.5" stroke-linejoin="round" stroke-linecap="round" fill="#fff"/>
<path d="M28,-144A100,144 0 0 1 28,144" stroke="#1c1c1c" stroke-width="11.5" stroke-linejoin="round" stroke-linecap="round" fill="none"/>
<ellipse cx="8" cy="0" rx="100" ry="144" stroke="#1c1c1c" stroke-width="11.5" stroke-linejoin="round" stroke-linecap="round" fill="#fff"/>
<ellipse cx="0" cy="0" rx="90" ry="132" stroke="#1c1c1c" stroke-width="11.5" stroke-linejoin="round" stroke-linecap="round" fill="#fff"/>
</g>
</g>
<g transform="translate(589.6,352.2)">
<path d="M-11.7,-15.4L-20.5,-14.8C-24.5,-14 -25.5,-9.5 -23.6,-6.8L-13.9,-0.4L-6,14L4.4,18.4L11.8,15.7L21.4,13.8C25.5,13.5 26,10 24.7,9.2L22.4,3.8L12.9,-3.6L4,-18Z" stroke="#1c1c1c" fill="#fff" stroke-width="1.2" stroke-linejoin="round"/>
<path d="M-20.5,-14.8L-18,-17.2L-9,-18M24.7,9.2C27.5,9 27.5,5 25,2.5L15,-5.5" stroke="#1c1c1c" stroke-width="1.35" fill="none"/>
<ellipse cx="-19.2" cy="-8.6" rx="2.2" ry="1.6" transform="rotate(35 -19.2 -8.6)" stroke="#1c1c1c" stroke-width="0.9" fill="none"/>
<ellipse cx="18.7" cy="8.8" rx="2.2" ry="1.6" transform="rotate(35 18.7 8.8)" stroke="#1c1c1c" stroke-width="0.9" fill="none"/>
</g>
<g transform="translate(589.6,352.2) rotate(-20.0)" >
<path d="M0,-18.6L3,-18.6A12.6,18.6 0 0 1 3,18.6L0,18.6Z" stroke="#1c1c1c" stroke-width="1.35" fill="#fff"/>
<ellipse cx="0" cy="0" rx="12.6" ry="18.6" stroke="#1c1c1c" stroke-width="1.3" fill="#fff"/>
<ellipse cx="0" cy="0" rx="9.2" ry="14.6" stroke="#1c1c1c" stroke-width="1.2" fill="#fff"/>
<path d="M-0.81,13.16A8.80,14.00 0 0 1 3.73,-13.79" stroke="#1c1c1c" stroke-width="1.35" fill="none"/>
</g>
<g transform="translate(84.8,182.6) rotate(-22.0)" >
<path d="M0,-14.8L4.0,-14.8A11.6,14.8 0 0 1 4.0,14.8L0,14.8Z" stroke="#1c1c1c" stroke-width="1.35" fill="#fff"/>
<ellipse cx="0" cy="0" rx="11.6" ry="14.8" stroke="#1c1c1c" stroke-width="1.3" fill="#fff"/>
<ellipse cx="0" cy="0" rx="8.2" ry="10.6" stroke="#1c1c1c" stroke-width="1.2" fill="#fff"/>
<path d="M1.42,10.13A7.95,10.28 0 1 1 4.86,-9.93" stroke="#1c1c1c" stroke-width="1.35" fill="none"/>
</g>
<g transform="translate(109.6,169.2) rotate(-22.0)" >
<path d="M0,-14.4L1.8,-14.4A11.9,14.4 0 0 1 1.8,14.4L0,14.4Z" stroke="#1c1c1c" stroke-width="1.35" fill="#fff"/>
<ellipse cx="0" cy="0" rx="11.9" ry="14.4" stroke="#1c1c1c" stroke-width="1.3" fill="#fff"/>
<ellipse cx="0" cy="0" rx="8.3" ry="10.8" stroke="#1c1c1c" stroke-width="1.2" fill="#fff"/>
</g>
<g transform="translate(557.6,369.2) rotate(-22.0)" >
<path d="M0,-14.8L4.0,-14.8A11.6,14.8 0 0 1 4.0,14.8L0,14.8Z" stroke="#1c1c1c" stroke-width="1.35" fill="#fff"/>
<ellipse cx="0" cy="0" rx="11.6" ry="14.8" stroke="#1c1c1c" stroke-width="1.3" fill="#fff"/>
<ellipse cx="0" cy="0" rx="8.2" ry="10.6" stroke="#1c1c1c" stroke-width="1.2" fill="#fff"/>
<path d="M1.42,10.13A7.95,10.28 0 1 1 4.86,-9.93" stroke="#1c1c1c" stroke-width="1.35" fill="none"/>
</g>
<g transform="translate(533.4,382.5) rotate(-22.0)" >
<path d="M0,-14.4L1.8,-14.4A11.9,14.4 0 0 1 1.8,14.4L0,14.4Z" stroke="#1c1c1c" stroke-width="1.35" fill="#fff"/>
<ellipse cx="0" cy="0" rx="11.9" ry="14.4" stroke="#1c1c1c" stroke-width="1.3" fill="#fff"/>
<ellipse cx="0" cy="0" rx="8.3" ry="10.4" stroke="#1c1c1c" stroke-width="1.2" fill="#fff"/>
</g>
<g transform="translate(62.7,182.7) rotate(0) scale(0.8,0.8)">
<path d="M-3.4,-1.8L-0.6,-3.8L3.0,-2.6L3.6,1.4L1.0,3.9L-2.8,2.6Z" stroke="#111" stroke-width="1.2" fill="#555" stroke-linejoin="round"/>
<ellipse cx="0.1" cy="-0.3" rx="1.3" ry="1.7" fill="#ddd" stroke="#111" stroke-width="0.6"/>
</g>
<g transform="translate(607.4,329.7) rotate(0) scale(0.8,0.8)">
<path d="M-3.4,-1.8L-0.6,-3.8L3.0,-2.6L3.6,1.4L1.0,3.9L-2.8,2.6Z" stroke="#111" stroke-width="1.2" fill="#555" stroke-linejoin="round"/>
<ellipse cx="0.1" cy="-0.3" rx="1.3" ry="1.7" fill="#ddd" stroke="#111" stroke-width="0.6"/>
</g>
<g transform="translate(652.4,346.0) rotate(0) scale(1.0,1.0)">
<path d="M-3.4,-1.8L-0.6,-3.8L3.0,-2.6L3.6,1.4L1.0,3.9L-2.8,2.6Z" stroke="#111" stroke-width="1.2" fill="#555" stroke-linejoin="round"/>
<ellipse cx="0.1" cy="-0.3" rx="1.3" ry="1.7" fill="#ddd" stroke="#111" stroke-width="0.6"/>
</g>
<ellipse cx="639.3" cy="352.9" rx="3.3" ry="4.8" transform="rotate(-20 639.3 352.9)" stroke="#111" stroke-width="1.1" fill="#777"/>
<ellipse cx="639.3" cy="352.9" rx="1.39" ry="2.02" transform="rotate(-20 639.3 352.9)" stroke="#111" stroke-width="0.7" fill="#fff"/>
<g transform="translate(31.5,239.7) rotate(0) scale(1.0,1.0)">
<path d="M-3.4,-1.8L-0.6,-3.8L3.0,-2.6L3.6,1.4L1.0,3.9L-2.8,2.6Z" stroke="#111" stroke-width="1.2" fill="#555" stroke-linejoin="round"/>
<ellipse cx="0.1" cy="-0.3" rx="1.3" ry="1.7" fill="#ddd" stroke="#111" stroke-width="0.6"/>
</g>
<ellipse cx="43.5" cy="234.8" rx="3.3" ry="4.8" transform="rotate(-20 43.5 234.8)" stroke="#111" stroke-width="1.1" fill="#777"/>
<ellipse cx="43.5" cy="234.8" rx="1.39" ry="2.02" transform="rotate(-20 43.5 234.8)" stroke="#111" stroke-width="0.7" fill="#fff"/>
<path d="M30,135L47.5,185" stroke="#1c1c1c" stroke-width="1.45" fill="none"/>
<text x="28" y="131.6" font-size="17" text-anchor="middle" stroke="#111" stroke-width="0.3">7</text>
<path d="M54,125L64,182.5" stroke="#1c1c1c" stroke-width="1.45" fill="none"/>
<text x="48" y="120.6" font-size="17" text-anchor="middle" stroke="#111" stroke-width="0.3">27</text>
<path d="M76,110L85,166" stroke="#1c1c1c" stroke-width="1.45" fill="none"/>
<text x="76" y="103.6" font-size="17" text-anchor="middle" stroke="#111" stroke-width="0.3">9</text>
<path d="M105,96L109,154" stroke="#1c1c1c" stroke-width="1.45" fill="none"/>
<text x="105" y="90.6" font-size="17" text-anchor="middle" stroke="#111" stroke-width="0.3">10</text>
<path d="M142.5,77.5L147.5,126" stroke="#1c1c1c" stroke-width="1.45" fill="none"/>
<text x="143" y="73.6" font-size="17" text-anchor="middle" stroke="#111" stroke-width="0.3">11</text>
<path d="M206,99L197.5,136" stroke="#1c1c1c" stroke-width="1.45" fill="none"/>
<text x="206" y="93.6" font-size="17" text-anchor="middle" stroke="#111" stroke-width="0.3">13</text>
<path d="M251,134L260,167.5" stroke="#1c1c1c" stroke-width="1.45" fill="none"/>
<text x="250" y="129.6" font-size="17" text-anchor="middle" stroke="#111" stroke-width="0.3">8</text>
<path d="M361.3,99.5L343,126.5" stroke="#1c1c1c" stroke-width="1.45" fill="none"/>
<text x="365" y="89.6" font-size="17" text-anchor="middle" stroke="#111" stroke-width="0.3">1</text>
<path d="M116,219L90,237.5" stroke="#1c1c1c" stroke-width="1.45" fill="none"/>
<text x="123" y="218.6" font-size="17" text-anchor="middle" stroke="#111" stroke-width="0.3">14</text>
<path d="M129.5,255L92.5,281" stroke="#1c1c1c" stroke-width="1.45" fill="none"/>
<text x="139" y="252.6" font-size="17" text-anchor="middle" stroke="#111" stroke-width="0.3">15</text>
<path d="M139,279L122.5,290" stroke="#1c1c1c" stroke-width="1.45" fill="none"/>
<text x="148" y="277.6" font-size="17" text-anchor="middle" stroke="#111" stroke-width="0.3">6</text>
<path d="M30,243L24,266.5" stroke="#1c1c1c" stroke-width="1.45" fill="none"/>
<text x="18.6" y="283.6" font-size="17" text-anchor="middle" stroke="#111" stroke-width="0.3">12</text>
<path d="M261,250L251,284" stroke="#1c1c1c" stroke-width="1.45" fill="none"/>
<text x="261" y="246.6" font-size="17" text-anchor="middle" stroke="#111" stroke-width="0.3">31</text>
<path d="M302.5,234L287.5,262.5" stroke="#1c1c1c" stroke-width="1.45" fill="none"/>
<text x="308" y="230.6" font-size="17" text-anchor="middle" stroke="#111" stroke-width="0.3">32</text>
<path d="M539,22.5L514,40" stroke="#1c1c1c" stroke-width="1.45" fill="none"/>
<text x="549.5" y="20.6" font-size="17" text-anchor="middle" stroke="#111" stroke-width="0.3">12</text>
<path d="M540,44L515,53" stroke="#1c1c1c" stroke-width="1.45" fill="none"/>
<text x="551" y="46.6" font-size="17" text-anchor="middle" stroke="#111" stroke-width="0.3">22</text>
<path d="M539,64L516,69" stroke="#1c1c1c" stroke-width="1.45" fill="none"/>
<text x="551" y="68.1" font-size="17" text-anchor="middle" stroke="#111" stroke-width="0.3">18</text>
<path d="M537.5,86L509,89" stroke="#1c1c1c" stroke-width="1.45" fill="none"/>
<text x="551" y="90.6" font-size="17" text-anchor="middle" stroke="#111" stroke-width="0.3">23</text>
<path d="M437.5,74L447.5,90" stroke="#1c1c1c" stroke-width="1.45" fill="none"/>
<text x="432.5" y="71.1" font-size="17" text-anchor="middle" stroke="#111" stroke-width="0.3">17</text>
<path d="M411,91L425,110" stroke="#1c1c1c" stroke-width="1.45" fill="none"/>
<text x="404.5" y="88.1" font-size="17" text-anchor="middle" stroke="#111" stroke-width="0.3">16</text>
<path d="M635,79L625,97.5" stroke="#1c1c1c" stroke-width="1.45" fill="none"/>
<text x="644.5" y="75.1" font-size="17" text-anchor="middle" stroke="#111" stroke-width="0.3">24</text>
<path d="M627.5,137.5L601,144" stroke="#1c1c1c" stroke-width="1.45" fill="none"/>
<text x="639" y="138.1" font-size="17" text-anchor="middle" stroke="#111" stroke-width="0.3">16</text>
<path d="M414,144L441,138" stroke="#1c1c1c" stroke-width="1.45" fill="none"/>
<text x="399" y="149.6" font-size="17" text-anchor="middle" stroke="#111" stroke-width="0.3">22</text>
<path d="M416,174L441,163" stroke="#1c1c1c" stroke-width="1.45" fill="none"/>
<text x="405" y="182.6" font-size="17" text-anchor="middle" stroke="#111" stroke-width="0.3">20</text>
<path d="M512.5,212.5L549,200" stroke="#1c1c1c" stroke-width="1.45" fill="none"/>
<text x="510" y="224.6" font-size="17" text-anchor="middle" stroke="#111" stroke-width="0.3">25</text>
<path d="M619.5,309L609,325" stroke="#1c1c1c" stroke-width="1.45" fill="none"/>
<text x="629" y="304.6" font-size="17" text-anchor="middle" stroke="#111" stroke-width="0.3">27</text>
<path d="M661,384L654,351" stroke="#1c1c1c" stroke-width="1.45" fill="none"/>
<text x="664" y="400.6" font-size="17" text-anchor="middle" stroke="#111" stroke-width="0.3">26</text>
<path d="M607.5,402.5L566,382.5" stroke="#1c1c1c" stroke-width="1.45" fill="none"/>
<text x="619" y="415.6" font-size="17" text-anchor="middle" stroke="#111" stroke-width="0.3">9</text>
<path d="M572.5,425L544,396" stroke="#1c1c1c" stroke-width="1.45" fill="none"/>
<text x="583" y="437.6" font-size="17" text-anchor="middle" stroke="#111" stroke-width="0.3">10</text>
<path d="M542.5,447.5L524.5,432.5" stroke="#1c1c1c" stroke-width="1.45" fill="none"/>
<text x="549.5" y="461.6" font-size="17" text-anchor="middle" stroke="#111" stroke-width="0.3">11</text>
<path d="M515,461L489,441" stroke="#1c1c1c" stroke-width="1.45" fill="none"/>
<text x="524" y="475.6" font-size="17" text-anchor="middle" stroke="#111" stroke-width="0.3">28</text>
<path d="M511,493L450.5,494.5" stroke="#1c1c1c" stroke-width="1.45" fill="none"/>
<text x="526" y="501.0" font-size="17" text-anchor="middle" stroke="#111" stroke-width="0.3">29</text>
<path d="M434,385L410,387" stroke="#1c1c1c" stroke-width="1.45" fill="none"/>
<text x="447.5" y="388.6" font-size="17" text-anchor="middle" stroke="#111" stroke-width="0.3">30</text>
<path d="M298,449L314,405" stroke="#1c1c1c" stroke-width="1.45" fill="none"/>
<text x="296" y="464.9" font-size="17" text-anchor="middle" stroke="#111" stroke-width="0.3">19</text>
<path d="M334.7,451.5L338,414" stroke="#1c1c1c" stroke-width="1.45" fill="none"/>
<text x="335" y="466.0" font-size="17" text-anchor="middle" stroke="#111" stroke-width="0.3">21</text>
<path d="M271,446L279,402" stroke="#1c1c1c" stroke-width="1.45" fill="none"/>
<text x="270" y="461.6" font-size="17" text-anchor="middle" stroke="#111" stroke-width="0.3">1</text>
<path d="M244,449L236,415" stroke="#1c1c1c" stroke-width="1.45" fill="none"/>
<text x="245" y="465.6" font-size="17" text-anchor="middle" stroke="#111" stroke-width="0.3">2</text>
<path d="M219.5,459L217,434" stroke="#1c1c1c" stroke-width="1.45" fill="none"/>
<text x="221" y="472.6" font-size="17" text-anchor="middle" stroke="#111" stroke-width="0.3">3</text>
<path d="M190,476L192.5,449" stroke="#1c1c1c" stroke-width="1.45" fill="none"/>
<text x="187.5" y="490.6" font-size="17" text-anchor="middle" stroke="#111" stroke-width="0.3">4</text>
<path d="M156,484L160,462.5" stroke="#1c1c1c" stroke-width="1.45" fill="none"/>
<text x="155" y="498.1" font-size="17" text-anchor="middle" stroke="#111" stroke-width="0.3">5</text>
<path d="M125,490L129.5,474" stroke="#1c1c1c" stroke-width="1.45" fill="none"/>
<text x="122.5" y="505.6" font-size="17" text-anchor="middle" stroke="#111" stroke-width="0.3">2</text>
<text x="242.5" y="533" font-size="13" font-weight="bold" textLength="216.5" lengthAdjust="spacingAndGlyphs">Рис. 8 ПРИВОД ЭКСЦЕНТРИКОВЫЙ</text>
</svg></body></html>
